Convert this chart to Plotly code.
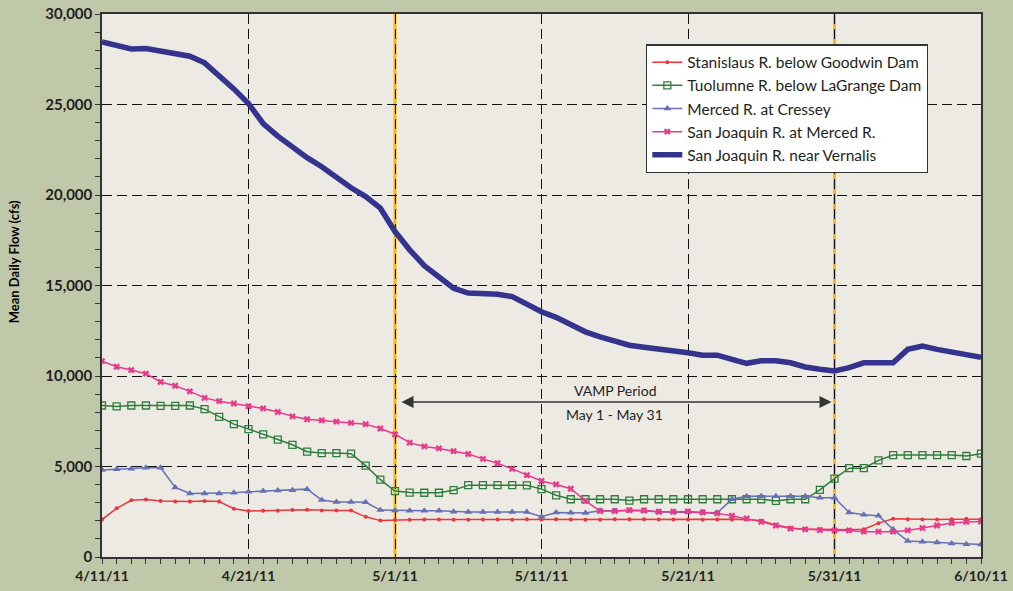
import pandas as pd
import plotly.graph_objects as go

dates = pd.date_range("2011-04-11", "2011-06-10", freq="D")

stanislaus = [2070, 2690, 3130, 3170, 3100, 3060, 3060, 3100, 3060, 2670,
              2540, 2560, 2560, 2590, 2610, 2570, 2570, 2570, 2220, 2010,
              2050, 2060, 2070, 2070, 2060, 2060, 2070, 2070, 2060, 2090,
              2070, 2090, 2070, 2060, 2060, 2090, 2090, 2090, 2070, 2070,
              2070, 2060, 2070, 2070, 2090, 2000, 1770, 1600, 1530, 1530,
              1510, 1510, 1530, 1870, 2110, 2090, 2070, 2070, 2090, 2110, 2090]

tuolumne = [8370, 8320, 8370, 8370, 8350, 8350, 8370, 8170, 7740, 7340,
            7070, 6780, 6490, 6200, 5820, 5740, 5740, 5710, 5050, 4270,
            3640, 3560, 3550, 3550, 3690, 3970, 3970, 3970, 3970, 3960,
            3750, 3410, 3190, 3190, 3190, 3190, 3120, 3190, 3190, 3190,
            3190, 3190, 3190, 3190, 3190, 3190, 3100, 3190, 3190, 3710,
            4330, 4910, 4910, 5340, 5630, 5630, 5630, 5630, 5630, 5580, 5710]

merced = [4800, 4850, 4870, 4930, 4930, 3840, 3510, 3510, 3510, 3550,
          3600, 3640, 3680, 3690, 3750, 3150, 3040, 3040, 3020, 2590,
          2570, 2560, 2560, 2560, 2500, 2480, 2480, 2480, 2480, 2480,
          2220, 2460, 2440, 2430, 2560, 2560, 2560, 2560, 2480, 2480,
          2480, 2480, 2440, 3190, 3360, 3360, 3360, 3360, 3360, 3280,
          3270, 2460, 2330, 2280, 1530, 880, 840, 800, 750, 710, 690]

sj_merced = [10820, 10510, 10330, 10130, 9670, 9460, 9150, 8790, 8610, 8480,
             8330, 8210, 8010, 7770, 7610, 7550, 7480, 7410, 7340, 7100,
             6780, 6320, 6110, 6000, 5850, 5690, 5420, 5180, 4870, 4520,
             4200, 4010, 3770, 3100, 2540, 2540, 2590, 2570, 2500, 2500,
             2520, 2460, 2410, 2280, 2130, 1940, 1740, 1570, 1530, 1490,
             1470, 1470, 1400, 1400, 1400, 1470, 1600, 1740, 1880, 1940, 1960]

vernalis = [28460, 28270, 28070, 28090, 27960, 27870, 27670, 27300, 26620, 25860,
            25050, 23950, 23250, 22650, 22060, 21560, 20970, 20400, 19910, 19270,
            17980, 16970, 16100, 15440, 14850, 14580, 14580, 14520, 14390, 13950,
            13550, 13240, 12840, 12440, 12160, 11960, 11700, 11590, 11500, 11410,
            11280, 11150, 11150, 10920, 10700, 10840, 10840, 10730, 10500, 10370,
            10280, 10460, 10730, 10730, 10730, 11470, 11650, 11470, 11320, 11140, 11030]

names = ["Stanislaus R. below Goodwin Dam", "Tuolumne R. below LaGrange Dam",
         "Merced R. at Cressey", "San Joaquin R. at Merced R.",
         "San Joaquin R. near Vernalis"]

vamp_start = "2011-05-01"
vamp_end = "2011-05-31"
vamp_label_x = "2011-05-16"
arrow_y = 8560
label_top = "VAMP Period"
label_bottom = "May 1 - May 31"

FONT = "Lato"
DARK = "#231f20"

fig = go.Figure()

fig.add_trace(go.Scatter(x=dates, y=stanislaus, name=names[0], mode="lines+markers",
                         line=dict(color="#e8383d", width=1.5),
                         marker=dict(symbol="circle", size=4, color="#e8383d"),
                         legendgroup="a"))
fig.add_trace(go.Scatter(x=dates, y=tuolumne, name=names[1], mode="lines+markers",
                         line=dict(color="#2e7d3b", width=1.5),
                         marker=dict(symbol="square-open", size=7, color="#2e7d3b",
                                     line=dict(width=1.3)),
                         legendgroup="b"))
fig.add_trace(go.Scatter(x=dates, y=merced, name=names[2], mode="lines+markers",
                         line=dict(color="#6670b5", width=1.5),
                         marker=dict(symbol="triangle-up", size=7, color="#6670b5"),
                         legendgroup="c"))
fig.add_trace(go.Scatter(x=dates, y=sj_merced, name=names[3], mode="lines+markers",
                         line=dict(color="#e83a8c", width=1.5),
                         marker=dict(symbol="x", size=6, color="#e83a8c"),
                         legendgroup="d"))
fig.add_trace(go.Scatter(x=dates, y=vernalis, name=names[4], mode="lines",
                         line=dict(color="#34338e", width=5.5),
                         legendgroup="e"))

# Orange VAMP boundary lines
fig.add_shape(type="line", x0=vamp_start, x1=vamp_start, y0=0, y1=1, xref="x", yref="paper",
              line=dict(color="#f7b90c", width=3), layer="between")
fig.add_shape(type="line", x0=vamp_end, x1=vamp_end, y0=0, y1=1, xref="x", yref="paper",
              line=dict(color="#f7b90c", width=3), layer="below")

# Double-headed arrow
fig.add_annotation(x=vamp_end, y=arrow_y, ax=vamp_start, ay=arrow_y,
                   xref="x", yref="y", axref="x", ayref="y", text="",
                   showarrow=True, arrowhead=2, startarrowhead=2, arrowside="end+start",
                   arrowsize=1.6, startarrowsize=1.6, arrowwidth=1.5, arrowcolor="#333333",
                   standoff=3, startstandoff=5)
fig.add_annotation(x=vamp_label_x, y=arrow_y, xref="x", yref="y", text=label_top,
                   showarrow=False, yshift=12, font=dict(family=FONT, size=14, color=DARK))
fig.add_annotation(x=vamp_label_x, y=arrow_y, xref="x", yref="y", text=label_bottom,
                   showarrow=False, yshift=-12, font=dict(family=FONT, size=14, color=DARK))

# Y axis title as annotation
fig.add_annotation(x=-0.1, y=0.543, xref="paper", yref="paper", text="Mean Daily Flow (cfs)",
                   showarrow=False, textangle=-90, xanchor="center", yanchor="middle",
                   font=dict(family=FONT, size=13, color="#000000", weight="bold"))

fig.update_layout(
    width=1013, height=591,
    margin=dict(l=102, r=32, t=14, b=34, autoexpand=False),
    paper_bgcolor="#bfc9a9",
    plot_bgcolor="#edeae4",
    font=dict(family=FONT, color=DARK),
    showlegend=True,
    legend=dict(x=0.619, y=0.944, xanchor="left", yanchor="top",
                bgcolor="#ffffff", bordercolor="#333333", borderwidth=1.2,
                font=dict(family=FONT, size=15.5, color=DARK),
                tracegroupgap=3, traceorder="normal"),
)

fig.update_xaxes(
    type="date",
    automargin=False,
    range=["2011-04-11", "2011-06-10"],
    tick0="2011-04-11", dtick=10 * 86400000,
    tickformat="%-m/%-d/%y",
    tickfont=dict(family=FONT, size=14, color=DARK, weight="bold"),
    ticks="outside", ticklen=5, tickcolor="#333333", tickwidth=1,
    showgrid=True, gridcolor="#111111", griddash="10px,5px", gridwidth=1.2,
    showline=True, linecolor="#333333", linewidth=1.5, mirror=True,
    minor=dict(dtick=86400000, ticks="outside", ticklen=5, tickcolor="#333333", showgrid=False),
    zeroline=False,
)
fig.update_yaxes(
    automargin=False,
    range=[0, 30000], dtick=5000, tickformat=",d",
    tickfont=dict(family=FONT, size=15, color=DARK, weight="bold"),
    ticks="outside", ticklen=5, tickcolor="#333333", tickwidth=1,
    showgrid=True, gridcolor="#111111", griddash="10px,5px", gridwidth=1.2,
    showline=True, linecolor="#333333", linewidth=1.5, mirror=True,
    minor=dict(dtick=1000, ticks="outside", ticklen=5, tickcolor="#333333", showgrid=False),
    zeroline=False,
)

fig.write_html("out.html", config={"displayModeBar": False},
               post_script="document.body.style.margin='0px';")
